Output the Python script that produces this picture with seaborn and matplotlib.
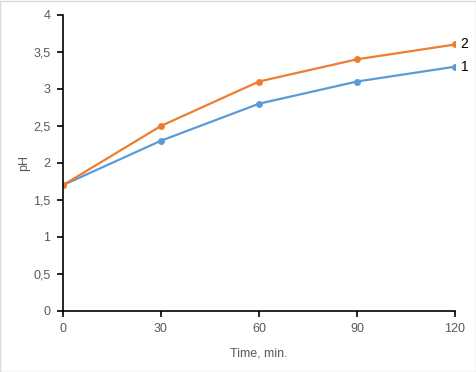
# Import Libraries
import pandas as pd
import seaborn as sns
import matplotlib.pyplot as plt
from matplotlib.ticker import FuncFormatter

# Data
time = [0, 30, 60, 90, 120]
ph_1 = [1.7, 2.3, 2.8, 3.1, 3.3]
ph_2 = [1.7, 2.5, 3.1, 3.4, 3.6]
series_names = ["1", "2"]
colors = ["#5B9BD5", "#ED7D31"]

df = pd.DataFrame({
    "time": time * 2,
    "pH": ph_1 + ph_2,
    "series": [series_names[0]] * len(time) + [series_names[1]] * len(time),
})

sns.set_style("white")
plt.rcParams['font.family'] = ['Liberation Sans', 'DejaVu Sans']

fig = plt.figure(figsize=(4.77, 3.72), dpi=100)
ax = fig.add_axes([0.132, 0.164, 0.822, 0.796])

sns.lineplot(
    data=df, x="time", y="pH", hue="series",
    palette=colors, marker="o", markersize=5, markeredgewidth=0,
    linewidth=1.6, legend=False, ax=ax,
)

# End labels
for name, vals in zip(series_names, [ph_1, ph_2]):
    ax.annotate(name, (time[-1], vals[-1]), xytext=(4, 0), textcoords="offset points",
                va="center", ha="left", fontsize=10, color="black",
                annotation_clip=False)

ax.set_xlim(0, 120)
ax.set_ylim(0, 4)
ax.set_xticks(time)
ax.set_yticks([0, 0.5, 1, 1.5, 2, 2.5, 3, 3.5, 4])
ax.yaxis.set_major_formatter(FuncFormatter(lambda v, p: f"{v:g}".replace(".", ",")))

for s in ["top", "right"]:
    ax.spines[s].set_visible(False)
for s in ["left", "bottom"]:
    ax.spines[s].set_color("black")
    ax.spines[s].set_linewidth(1.2)

ax.tick_params(axis="both", direction="out", length=4, width=1.2, color="black",
               labelsize=9, labelcolor="#595959", bottom=True, left=True, pad=5)
ax.set_xlabel("Time, min.", fontsize=9, color="#595959", labelpad=9)
ax.set_ylabel("pH", fontsize=9, color="#595959", labelpad=2)

# Light gray figure border
fig.patches.append(plt.Rectangle((0.001, 0.001), 0.997, 0.997, transform=fig.transFigure,
                                 fill=False, edgecolor="#D9D9D9", linewidth=1))

fig.savefig("out.png", dpi=100)
